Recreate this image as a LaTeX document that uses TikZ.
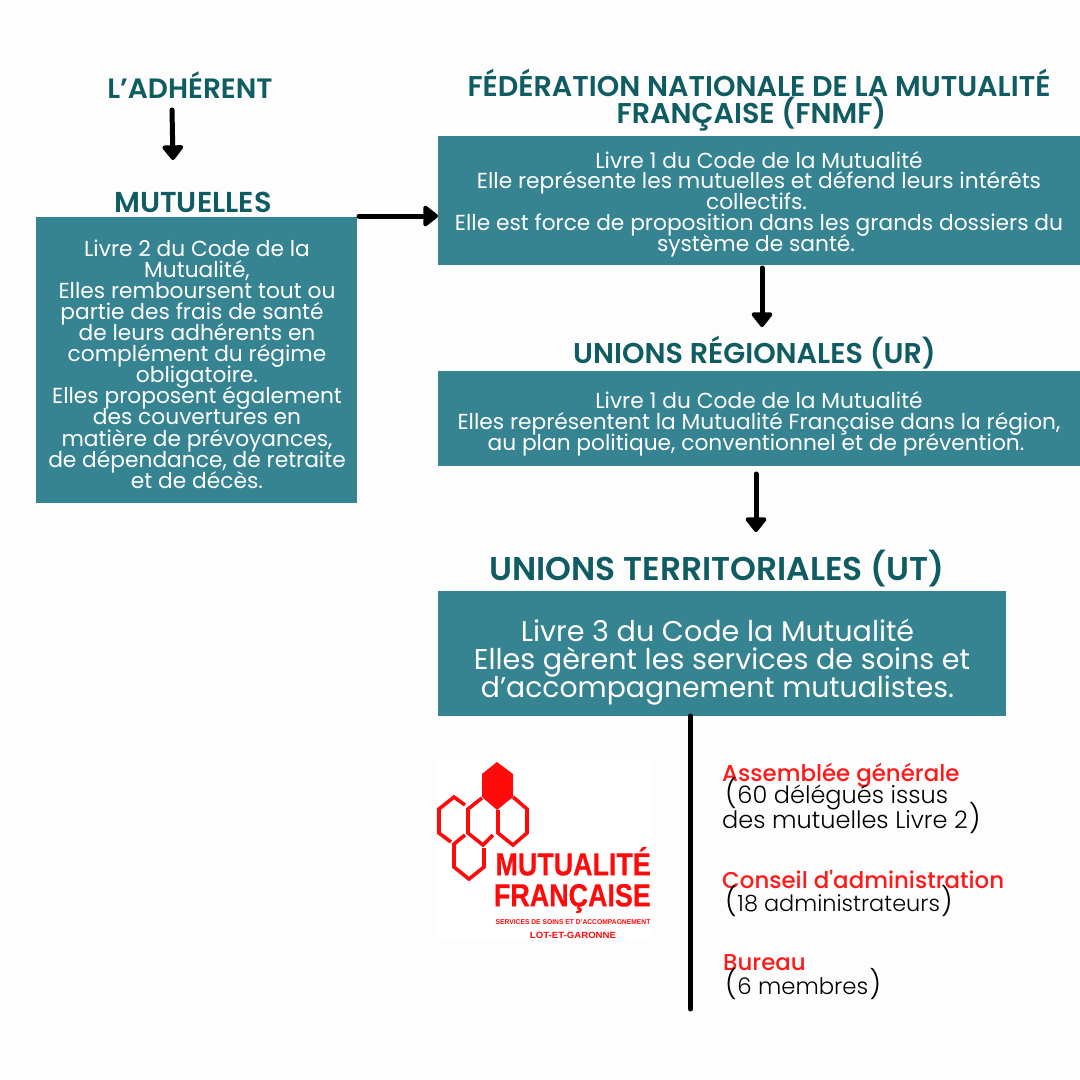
\documentclass[tikz,border=0pt]{standalone}
\usepackage{fontspec}
\setmainfont{Poppins}
\newfontfamily\titlefont{Poppins SemiBold}
\newfontfamily\labfont{Poppins Medium}
\newfontfamily\detfont{Poppins Light}
\newfontfamily\logofont{Liberation Sans Bold}[FakeBold=0.6]
\newfontfamily\logosmall{Liberation Sans Bold}
\usetikzlibrary{arrows.meta}
\definecolor{pagebg}{HTML}{FDFDFD}
\definecolor{boxteal}{HTML}{368391}
\definecolor{titleteal}{HTML}{0F5C63}
\definecolor{redlabel}{HTML}{FF1A1A}
\definecolor{logored}{HTML}{FF0A0A}
\newcommand{\fs}[2]{\fontsize{#1}{#2}\selectfont\lineskiplimit=-60pt\relax}
\newcommand{\lpar}{{\fontsize{28}{23}\selectfont(}\hspace{0.5pt}}
\newcommand{\rpar}{\hspace{1pt}{\fontsize{28}{23}\selectfont)}}
\tikzset{
 x=1pt,y=-1pt,
 box/.style={fill=boxteal,draw=none,inner sep=0pt,anchor=north west},
 boxtxt/.style={text=white,align=center,inner sep=0pt,font=\fs{21.75}{20.8}},
 ttl/.style={text=titleteal,align=center,inner sep=0pt},
 arr/.style={line width=5pt,line cap=round,-{Triangle[length=16pt,width=24pt,round]}},
 hexline/.style={draw=logored,line width=3.6pt,line join=miter},
 lab/.style={text=redlabel,anchor=base west,inner sep=0pt,font=\labfont\fs{22.9}{23}},
 det/.style={text=black,anchor=base west,inner sep=0pt,font=\detfont\fs{24}{25}},
}
\begin{document}
\begin{tikzpicture}
\useasboundingbox[fill=pagebg] (0,0) rectangle (1080,1080);
% titles
\node[ttl,font=\titlefont\fs{28}{28}] (adh) at (190,85) {L’ADHÉRENT};
\node[ttl,font=\titlefont\fs{28.8}{28}] (mut) at (193,202) {MUTUELLES};
\node[ttl,font=\titlefont\fs{28.6}{27.5}] (fnmf) at (759,100) {FÉDÉRATION NATIONALE DE LA MUTUALITÉ\\\hspace*{-15pt}FRANÇAISE (FNMF)};
\node[ttl,font=\titlefont\fs{28.6}{28}] (ur) at (754.500,353) {UNIONS RÉGIONALES (UR)};
\node[ttl,font=\titlefont\fs{32.900}{32}] (ut) at (717,569) {UNIONS TERRITORIALES (UT)};
% boxes
\node[box,minimum width=321pt,minimum height=286pt] (mutbox) at (36,217) {};
\node[box,minimum width=642pt,minimum height=129pt] (fnmfbox) at (438,136) {};
\node[box,minimum width=642pt,minimum height=95pt] (urbox) at (438,371) {};
\node[box,minimum width=568pt,minimum height=125pt] (utbox) at (438,591) {};
% box texts
\node[boxtxt,font=\fs{21.75}{21.1}] (mutt) at (197,364) {Livre 2 du Code de la\\Mutualité,\\Elles remboursent tout ou\\\hspace*{-10pt}partie des frais de santé\\de leurs adhérents en\\complément du régime\\obligatoire.\\Elles proposent également\\des couvertures en\\matière de prévoyances,\\de dépendance, de retraite\\et de décès.};
\node[boxtxt] (fnmft) at (759,204) {Livre 1 du Code de la Mutualité\\Elle représente les mutuelles et défend leurs intérêts\\\hspace*{-5pt}collectifs.\\Elle est force de proposition dans les grands dossiers du\\\hspace*{-6pt}système de santé.};
\node[boxtxt] (urt) at (759,424) {Livre 1 du Code de la Mutualité\\Elles représentent la Mutualité Française dans la région,\\\hspace*{-6pt}au plan politique, conventionnel et de prévention.};
\node[boxtxt,font=\fs{28.6}{28}] (utt) at (722,662) {\hspace*{-9pt}Livre 3 du Code la Mutualité\\Elles gèrent les services de soins et\\\hspace*{-9pt}\scalebox{0.988}[1]{d’accompagnement mutualistes.}};
% connector end points
\coordinate (a1) at (172,110); \coordinate (a2) at (173,160);
\coordinate (b1) at (359,216); \coordinate (b2) at (438,216);
\coordinate (c1) at (762,268); \coordinate (c2) at (762,327);
\coordinate (d1) at (756,474); \coordinate (d2) at (756,532);
\coordinate (e1) at (690.500,716); \coordinate (e2) at (690.500,1009);
\draw[arr] (a1) -- (a2);
\draw[arr] (b1) -- (b2);
\draw[arr] (c1) -- (c2);
\draw[arr] (d1) -- (d2);
\draw[line width=5pt,line cap=round] (e1) -- (e2);
% logo
\fill[white] (437,760) rectangle (651,940);
\fill[logored,line join=round] (497,762) -- (513,774) -- (513,797) -- (497,810) -- (482,797) -- (482,774) -- cycle;
\draw[hexline] (482,798) -- (468,809) -- (468,833) -- (483,845) -- (493,835);
\draw[hexline] (513,797) -- (527,809) -- (527,833) -- (513,845) -- (498,833) -- (498,810);
\draw[hexline] (465,805) -- (454,797) -- (439,809) -- (439,833) -- (451,842);
\draw[hexline] (465,835) -- (454,844) -- (454,867) -- (469,879) -- (484,867) -- (484,848);
\node[text=logored,inner sep=0pt,anchor=east,align=right,font=\logofont\fs{32}{31}] (l1) at (651,880) {\scalebox{0.84}[1]{MUTUALITÉ}\\\scalebox{0.84}[1]{FRANÇAISE}};
\node[text=logored,inner sep=0pt] (l3) at (573,922) {\logosmall\fs{7}{7}\scalebox{0.96}[1]{SERVICES DE SOINS ET D’ACCOMPAGNEMENT}};
\node[text=logored,inner sep=0pt] (l4) at (573,935) {\logosmall\fs{9}{9}\scalebox{1.07}[1]{LOT-ET-GARONNE}};
% right labels
\node[lab] (ag) at (722,781) {Assemblée générale};
\node[det] (agd) at (725,803) {\lpar 60 délégués issus};
\node[det] (agd2) at (722,828) {des mutuelles Livre 2\rpar};
\node[lab] (ca) at (722,888.300) {Conseil d'administration};
\node[det,font=\detfont\fs{22.4}{25}] (cad) at (725,911) {\lpar 18 administrateurs\rpar};
\node[lab] (bu) at (723,970.700) {Bureau};
\node[det,font=\detfont\fs{22.8}{25}] (bud) at (725,994.300) {\lpar 6 membres\rpar};
\end{tikzpicture}
\end{document}
